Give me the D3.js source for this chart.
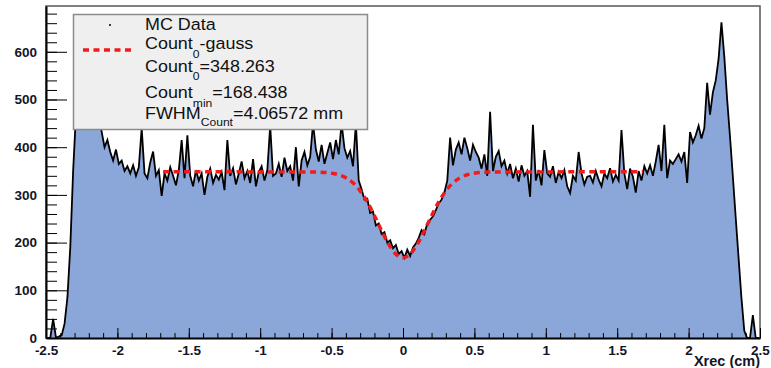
<!DOCTYPE html>
<html>
<head>
<meta charset="utf-8">
<script src="https://cdn.jsdelivr.net/npm/d3@7"></script>
<style>
  body { margin: 0; background: #fff; }
  svg { display: block; font-family: "Liberation Sans", Arial, sans-serif; }
  .axis text { font-weight: bold; font-size: 13.5px; fill: #141428; }
  .axis line, .axis path { stroke: #000; }
</style>
</head>
<body>
<svg width="771" height="368"></svg>
<script>
// histogram binning (cm)
var xMin = -2.5, xMax = 2.5, binWidth = 0.02;

// MC data, counts per bin
var counts = [
  0, 0, 40, 0, 3, 6, 30, 85, 190, 350,
  470, 540, 580, 600, 590, 565, 530, 495, 465, 432,
  400, 415, 390, 372, 395, 365, 372, 350, 360, 345,
  362, 340, 358, 440, 345, 335, 368, 391, 340, 352,
  298, 345, 330, 358, 340, 320, 352, 415, 335, 425,
  340, 318, 352, 330, 345, 300, 338, 355, 325, 342,
  332, 348, 310, 415, 340, 356, 322, 345, 370, 335,
  350, 325, 375, 318, 348, 360, 330, 352, 445, 340,
  345, 365, 338, 378, 350, 360, 330, 400, 318, 372,
  390, 362, 380, 450, 395, 370, 405, 365, 388, 410,
  375, 415, 385, 450, 398, 378, 392, 360, 450, 330,
  312, 290, 292, 262, 265, 236, 240, 218, 222, 200,
  205, 188, 195, 176, 182, 168, 185, 172, 190, 198,
  210, 226, 218, 240, 248, 255, 268, 282, 290, 305,
  330, 420, 362, 395, 410, 385, 420, 398, 372, 405,
  390, 378, 355, 385, 340, 474, 350, 380, 392, 360,
  372, 345, 365, 335, 355, 328, 362, 340, 350, 296,
  447, 330, 352, 320, 394, 345, 338, 360, 325, 348,
  335, 352, 318, 304, 340, 330, 390, 345, 322, 338,
  340, 326, 350, 332, 318, 345, 335, 356, 328, 342,
  330, 436, 345, 312, 355, 338, 305, 350, 330, 360,
  345, 362, 340, 370, 405, 350, 447, 335, 372, 365,
  375, 385, 370, 390, 325, 432, 410, 425, 445, 418,
  440, 535, 468, 515, 540, 585, 662, 590, 500, 422,
  338, 252, 168, 84, 15, 0, 0, 48, 0, 0
];

// Count0 - gauss fit curve
var fitX = [-1.68, -0.7, -0.6, -0.55, -0.5, -0.45, -0.4, -0.35, -0.3, -0.25, -0.2, -0.15, -0.1, -0.05, 0,
            0.05, 0.1, 0.15, 0.2, 0.25, 0.3, 0.35, 0.4, 0.45, 0.5, 0.55, 0.6, 0.7, 1.68];
var fitY = [348.3, 348.2, 347.8, 347.1, 345.5, 342.2, 336.0, 325.2, 308.5, 285.2, 256.3, 225.0, 196.2, 175.9, 168.4,
            175.9, 196.2, 225.0, 256.3, 285.2, 308.5, 325.2, 336.0, 342.2, 345.5, 347.1, 347.8, 348.2, 348.3];

var xTickValues = [-2.5, -2, -1.5, -1, -0.5, 0, 0.5, 1, 1.5, 2, 2.5];
var xTickLabels = ["-2.5", "-2", "-1.5", "-1", "-0.5", "0", "0.5", "1", "1.5", "2", "2.5"];
var yTickValues = [0, 100, 200, 300, 400, 500, 600];
var yMax = 696;

// legend lines: [main, subscript, rest]
var legendRows = [
  ["MC Data", "", ""],
  ["Count", "0", "-gauss"],
  ["Count", "0", "=348.263"],
  ["Count", "min", "=168.438"],
  ["FWHM", "Count", "=4.06572 mm"]
];

var svg = d3.select("svg"),
    frame = {left: 46, right: 760, top: 6, bottom: 338};

var x = d3.scaleLinear().domain([xMin, xMax]).range([frame.left, frame.right]);
var y = d3.scaleLinear().domain([0, yMax]).range([frame.bottom, frame.top]);

svg.append("clipPath").attr("id", "plotclip")
  .append("rect")
    .attr("x", frame.left).attr("y", frame.top)
    .attr("width", frame.right - frame.left)
    .attr("height", frame.bottom - frame.top);

// frame
svg.append("rect")
  .attr("x", frame.left).attr("y", frame.top)
  .attr("width", frame.right - frame.left)
  .attr("height", frame.bottom - frame.top)
  .attr("fill", "#fff")
  .attr("stroke", "#555")
  .attr("stroke-width", 1.5);

var binCenter = function(d, i) { return x(xMin + binWidth * (i + 0.5)); };

var gPlot = svg.append("g").attr("clip-path", "url(#plotclip)");

gPlot.append("path")
  .datum(counts)
  .attr("d", d3.area().x(binCenter).y0(y(0)).y1(function(d) { return y(d); }))
  .attr("fill", "#8ba7d9");

gPlot.append("path")
  .datum(counts)
  .attr("d", d3.line().x(binCenter).y(function(d) { return y(d); }))
  .attr("fill", "none")
  .attr("stroke", "#000")
  .attr("stroke-width", 1.8)
  .attr("stroke-linejoin", "miter");

gPlot.append("path")
  .datum(fitX.map(function(v, i) { return [v, fitY[i]]; }))
  .attr("d", d3.line().curve(d3.curveMonotoneX)
      .x(function(d) { return x(d[0]); })
      .y(function(d) { return y(d[1]); }))
  .attr("fill", "none")
  .attr("stroke", "#f21b1b")
  .attr("stroke-width", 3.5)
  .attr("stroke-dasharray", "6,4.5");

// y axis: minor then major
svg.append("g")
  .attr("class", "axis")
  .attr("transform", "translate(" + frame.left + ",0)")
  .call(d3.axisLeft(y).tickValues(d3.range(0, yMax, 20)).tickSize(-11).tickFormat(""))
  .select(".domain").remove();

svg.append("g")
  .attr("class", "axis")
  .attr("transform", "translate(" + frame.left + ",0)")
  .call(d3.axisLeft(y).tickValues(yTickValues).tickSizeInner(-21).tickSizeOuter(0).tickPadding(9))
  .call(function(g) { g.select(".domain").attr("stroke-width", 2); });

// x axis: minor then major
svg.append("g")
  .attr("class", "axis")
  .attr("transform", "translate(0," + frame.bottom + ")")
  .call(d3.axisBottom(x).tickValues(d3.range(-25, 26).map(function(k) { return k / 10; })).tickSize(-5).tickFormat(""))
  .select(".domain").remove();

svg.append("g")
  .attr("class", "axis")
  .attr("transform", "translate(0," + frame.bottom + ")")
  .call(d3.axisBottom(x).tickValues(xTickValues).tickSizeInner(-10).tickSizeOuter(0).tickPadding(7)
      .tickFormat(function(d, i) { return xTickLabels[i]; }))
  .call(function(g) { g.select(".domain").attr("stroke-width", 2); });

svg.append("text")
  .attr("x", frame.right)
  .attr("y", 366)
  .attr("text-anchor", "end")
  .attr("font-weight", "bold")
  .attr("font-size", 14.5)
  .attr("fill", "#141428")
  .text("Xrec (cm)");

// legend
var legend = svg.append("g");
legend.append("rect")
  .attr("x", 73.5).attr("y", 14.5)
  .attr("width", 294).attr("height", 115)
  .attr("fill", "#efefef")
  .attr("stroke", "#8a8a8a")
  .attr("stroke-width", 1.5);

legend.append("circle").attr("cx", 110).attr("cy", 25).attr("r", 1).attr("fill", "#000");
legend.append("line")
  .attr("x1", 83).attr("x2", 132).attr("y1", 50).attr("y2", 50)
  .attr("stroke", "#f21b1b").attr("stroke-width", 3.5)
  .attr("stroke-dasharray", "6,4.5");

var rowBase = [30, 49, 72, 98, 119],
    subShift = [0, 9, 8, 9, 7];

legendRows.forEach(function(r, i) {
  var t = legend.append("g")
      .attr("transform", "translate(145," + rowBase[i] + ") scale(1.1,1)")
    .append("text")
      .attr("font-size", 16.3)
      .attr("fill", "#111");
  t.append("tspan").text(r[0]);
  if (r[1]) {
    t.append("tspan").attr("font-size", 11).attr("dy", subShift[i]).text(r[1]);
    t.append("tspan").attr("dy", -subShift[i]).text(r[2]);
  }
});
</script>
</body>
</html>
